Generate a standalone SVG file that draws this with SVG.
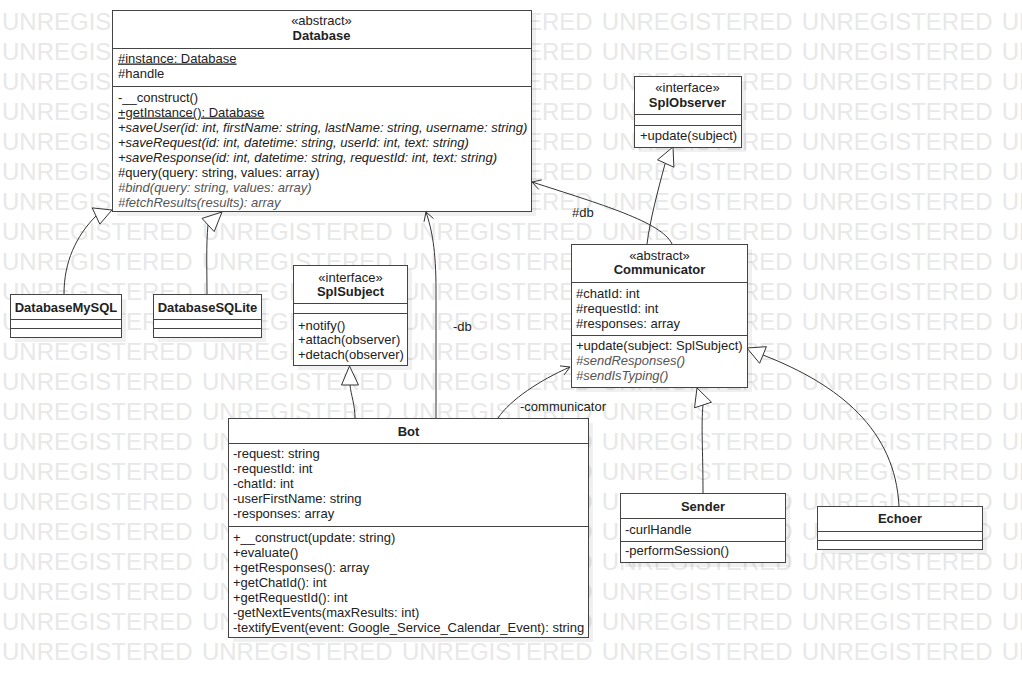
<svg xmlns="http://www.w3.org/2000/svg" width="1022" height="678" viewBox="0 0 1022 678">
<style>
.wm{font-family:"Liberation Sans",Arial,sans-serif;font-size:24px;fill:#e8e8e8;word-spacing:2.6px}
.box{fill:#fff;stroke:#444;stroke-width:1}
.sh{fill:#000;fill-opacity:.06}
.dv{stroke:#444;stroke-width:1}
.t{font-family:"Liberation Sans",Arial,sans-serif;font-size:13px;fill:#222}
.b{font-weight:bold}
.c{text-anchor:middle}
.i{font-style:italic}
.g{fill:#555}
.u{text-decoration:underline}
.ln{fill:none;stroke:#333;stroke-width:1}
.tri{fill:#fff;stroke:#333;stroke-width:1}
</style>
<rect width="1022" height="678" fill="#fff"/>
<g id="watermark">
<text class="wm" x="2" y="30">UNREGISTERED UNREGISTERED UNREGISTERED UNREGISTERED UNREGISTERED UNREGISTERED</text>
<text class="wm" x="2" y="60">UNREGISTERED UNREGISTERED UNREGISTERED UNREGISTERED UNREGISTERED UNREGISTERED</text>
<text class="wm" x="2" y="90">UNREGISTERED UNREGISTERED UNREGISTERED UNREGISTERED UNREGISTERED UNREGISTERED</text>
<text class="wm" x="2" y="120">UNREGISTERED UNREGISTERED UNREGISTERED UNREGISTERED UNREGISTERED UNREGISTERED</text>
<text class="wm" x="2" y="150">UNREGISTERED UNREGISTERED UNREGISTERED UNREGISTERED UNREGISTERED UNREGISTERED</text>
<text class="wm" x="2" y="180">UNREGISTERED UNREGISTERED UNREGISTERED UNREGISTERED UNREGISTERED UNREGISTERED</text>
<text class="wm" x="2" y="210">UNREGISTERED UNREGISTERED UNREGISTERED UNREGISTERED UNREGISTERED UNREGISTERED</text>
<text class="wm" x="2" y="240">UNREGISTERED UNREGISTERED UNREGISTERED UNREGISTERED UNREGISTERED UNREGISTERED</text>
<text class="wm" x="2" y="270">UNREGISTERED UNREGISTERED UNREGISTERED UNREGISTERED UNREGISTERED UNREGISTERED</text>
<text class="wm" x="2" y="300">UNREGISTERED UNREGISTERED UNREGISTERED UNREGISTERED UNREGISTERED UNREGISTERED</text>
<text class="wm" x="2" y="330">UNREGISTERED UNREGISTERED UNREGISTERED UNREGISTERED UNREGISTERED UNREGISTERED</text>
<text class="wm" x="2" y="360">UNREGISTERED UNREGISTERED UNREGISTERED UNREGISTERED UNREGISTERED UNREGISTERED</text>
<text class="wm" x="2" y="390">UNREGISTERED UNREGISTERED UNREGISTERED UNREGISTERED UNREGISTERED UNREGISTERED</text>
<text class="wm" x="2" y="420">UNREGISTERED UNREGISTERED UNREGISTERED UNREGISTERED UNREGISTERED UNREGISTERED</text>
<text class="wm" x="2" y="450">UNREGISTERED UNREGISTERED UNREGISTERED UNREGISTERED UNREGISTERED UNREGISTERED</text>
<text class="wm" x="2" y="480">UNREGISTERED UNREGISTERED UNREGISTERED UNREGISTERED UNREGISTERED UNREGISTERED</text>
<text class="wm" x="2" y="510">UNREGISTERED UNREGISTERED UNREGISTERED UNREGISTERED UNREGISTERED UNREGISTERED</text>
<text class="wm" x="2" y="540">UNREGISTERED UNREGISTERED UNREGISTERED UNREGISTERED UNREGISTERED UNREGISTERED</text>
<text class="wm" x="2" y="570">UNREGISTERED UNREGISTERED UNREGISTERED UNREGISTERED UNREGISTERED UNREGISTERED</text>
<text class="wm" x="2" y="600">UNREGISTERED UNREGISTERED UNREGISTERED UNREGISTERED UNREGISTERED UNREGISTERED</text>
<text class="wm" x="2" y="630">UNREGISTERED UNREGISTERED UNREGISTERED UNREGISTERED UNREGISTERED UNREGISTERED</text>
<text class="wm" x="2" y="660">UNREGISTERED UNREGISTERED UNREGISTERED UNREGISTERED UNREGISTERED UNREGISTERED</text>
</g>

<g id="Database">
<rect class="sh" x="117" y="15" width="419" height="201"/>
<rect class="box" x="112.5" y="10.5" width="419" height="201"/>
<line class="dv" x1="112.5" y1="48.5" x2="531.5" y2="48.5"/>
<line class="dv" x1="112.5" y1="86.5" x2="531.5" y2="86.5"/>
<text class="t c" x="321.5" y="25">«abstract»</text>
<text class="t c b" x="321.5" y="40">Database</text>
<text class="t u" x="118" y="62.5">#instance: Database</text>
<text class="t" x="118" y="77.5">#handle</text>
<text class="t" x="118" y="101.5">-__construct()</text>
<text class="t u" x="118" y="116.5">+getInstance(): Database</text>
<text class="t i" x="118" y="131.5">+saveUser(id: int, firstName: string, lastName: string, username: string)</text>
<text class="t i" x="118" y="146.5">+saveRequest(id: int, datetime: string, userId: int, text: string)</text>
<text class="t i" x="118" y="161.5">+saveResponse(id: int, datetime: string, requestId: int, text: string)</text>
<text class="t" x="118" y="176.5">#query(query: string, values: array)</text>
<text class="t i g" x="118" y="191.5">#bind(query: string, values: array)</text>
<text class="t i g" x="118" y="206.5">#fetchResults(results): array</text>
</g>

<g id="SplObserver">
<rect class="sh" x="639" y="81" width="107" height="71"/>
<rect class="box" x="634.5" y="76.5" width="107" height="71"/>
<line class="dv" x1="634.5" y1="114.5" x2="741.5" y2="114.5"/>
<line class="dv" x1="634.5" y1="125.5" x2="741.5" y2="125.5"/>
<text class="t c" x="687.5" y="91.5">«interface»</text>
<text class="t c b" x="687.5" y="106.5">SplObserver</text>
<text class="t" x="640" y="140">+update(subject)</text>
</g>

<g id="DatabaseMySQL">
<rect class="sh" x="15" y="299" width="111" height="43"/>
<rect class="box" x="10.5" y="294.5" width="111" height="43"/>
<line class="dv" x1="10.5" y1="319.5" x2="121.5" y2="319.5"/>
<line class="dv" x1="10.5" y1="328.5" x2="121.5" y2="328.5"/>
<text class="t c b" x="66" y="311.5">DatabaseMySQL</text>
</g>

<g id="DatabaseSQLite">
<rect class="sh" x="158" y="299" width="108" height="43"/>
<rect class="box" x="153.5" y="294.5" width="108" height="43"/>
<line class="dv" x1="153.5" y1="319.5" x2="261.5" y2="319.5"/>
<line class="dv" x1="153.5" y1="328.5" x2="261.5" y2="328.5"/>
<text class="t c b" x="207.5" y="311.5">DatabaseSQLite</text>
</g>

<g id="SplSubject">
<rect class="sh" x="298" y="270" width="114" height="100"/>
<rect class="box" x="293.5" y="265.5" width="114" height="100"/>
<line class="dv" x1="293.5" y1="303.5" x2="407.5" y2="303.5"/>
<line class="dv" x1="293.5" y1="313.5" x2="407.5" y2="313.5"/>
<text class="t c" x="350.5" y="282">«interface»</text>
<text class="t c b" x="350.5" y="296">SplSubject</text>
<text class="t" x="298" y="329.5">+notify()</text>
<text class="t" x="298" y="344">+attach(observer)</text>
<text class="t" x="298" y="358.5">+detach(observer)</text>
</g>

<g id="Communicator">
<rect class="sh" x="576" y="249" width="176" height="143"/>
<rect class="box" x="571.5" y="244.5" width="176" height="143"/>
<line class="dv" x1="571.5" y1="282.5" x2="747.5" y2="282.5"/>
<line class="dv" x1="571.5" y1="335.5" x2="747.5" y2="335.5"/>
<text class="t c" x="659.5" y="259.5">«abstract»</text>
<text class="t c b" x="659.5" y="273.5">Communicator</text>
<text class="t" x="576" y="297.5">#chatId: int</text>
<text class="t" x="576" y="312.5">#requestId: int</text>
<text class="t" x="576" y="327.5">#responses: array</text>
<text class="t" x="576" y="349.5">+update(subject: SplSubject)</text>
<text class="t i g" x="576" y="364.5">#sendResponses()</text>
<text class="t i g" x="576" y="379.5">#sendIsTyping()</text>
</g>

<g id="Bot">
<rect class="sh" x="233" y="423" width="360" height="219"/>
<rect class="box" x="228.5" y="418.5" width="360" height="219"/>
<line class="dv" x1="228.5" y1="443.5" x2="588.5" y2="443.5"/>
<line class="dv" x1="228.5" y1="526.5" x2="588.5" y2="526.5"/>
<text class="t c b" x="408.5" y="435.5">Bot</text>
<text class="t" x="233" y="457.5">-request: string</text>
<text class="t" x="233" y="472.5">-requestId: int</text>
<text class="t" x="233" y="487.5">-chatId: int</text>
<text class="t" x="233" y="502.5">-userFirstName: string</text>
<text class="t" x="233" y="517.5">-responses: array</text>
<text class="t" x="233" y="541.5">+__construct(update: string)</text>
<text class="t" x="233" y="556.5">+evaluate()</text>
<text class="t" x="233" y="571.5">+getResponses(): array</text>
<text class="t" x="233" y="586.5">+getChatId(): int</text>
<text class="t" x="233" y="601.5">+getRequestId(): int</text>
<text class="t" x="233" y="616.5">-getNextEvents(maxResults: int)</text>
<text class="t" x="233" y="631.5">-textifyEvent(event: Google_Service_Calendar_Event): string</text>
</g>

<g id="Sender">
<rect class="sh" x="625" y="498" width="165" height="69"/>
<rect class="box" x="620.5" y="493.5" width="165" height="69"/>
<line class="dv" x1="620.5" y1="518.5" x2="785.5" y2="518.5"/>
<line class="dv" x1="620.5" y1="541.5" x2="785.5" y2="541.5"/>
<text class="t c b" x="703" y="510.5">Sender</text>
<text class="t" x="625" y="533.5">-curlHandle</text>
<text class="t" x="625" y="555">-performSession()</text>
</g>

<g id="Echoer">
<rect class="sh" x="822" y="511" width="165" height="43"/>
<rect class="box" x="817.5" y="506.5" width="165" height="43"/>
<line class="dv" x1="817.5" y1="531.5" x2="982.5" y2="531.5"/>
<line class="dv" x1="817.5" y1="540.5" x2="982.5" y2="540.5"/>
<text class="t c b" x="900" y="523">Echoer</text>
</g>

<g id="connectors">
<!-- DatabaseMySQL -> Database -->
<path class="ln" d="M64,294 C64,262 76,236 96,216"/>
<polygon class="tri" points="112,210 99.8,224.1 92.2,207.9"/>
<!-- DatabaseSQLite -> Database -->
<path class="ln" d="M207,294 C207,270 206,245 208,225"/>
<polygon class="tri" points="222,212 214.2,231.6 202,218.4"/>
<!-- Communicator -> SplObserver -->
<path class="ln" d="M647,244 C650,220 658,190 665,164"/>
<polygon class="tri" points="673,147 673.9,167.2 657.5,159.8"/>
<!-- Communicator -> Database (#db) -->
<path class="ln" d="M672,244 C662,222 600,204 532,182"/>
<polyline class="ln" points="538.7,189.4 532,182 541.8,179.9"/>
<text class="t" x="572" y="216.5">#db</text>
<!-- Bot -> Database (-db) -->
<path class="ln" d="M436,418 L436,290 C436,250 432,230 426,212"/>
<polyline class="ln" points="424,221.8 426,212 433.5,218.6"/>
<text class="t" x="453" y="330.5">-db</text>
<!-- Bot -> SplSubject -->
<path class="ln" d="M355,418 C355,405 351,395 350,385"/>
<polygon class="tri" points="349.5,366 358.5,385 341.5,385"/>
<!-- Bot -> Communicator (-communicator) -->
<path class="ln" d="M498,418 C510,400 540,380 570,367"/>
<polyline class="ln" points="560,365.9 570,367 564,375"/>
<text class="t" x="520" y="410.5">-communicator</text>
<!-- Sender -> Communicator -->
<path class="ln" d="M703,493 C703,450 701,425 703,405"/>
<polygon class="tri" points="697,388 711.5,402.2 694.5,407.8"/>
<!-- Echoer -> Communicator -->
<path class="ln" d="M899,506 C895,430 840,385 763,355"/>
<polygon class="tri" points="747,348 766.4,346.7 759.6,363.3"/>
</g>
</svg>
